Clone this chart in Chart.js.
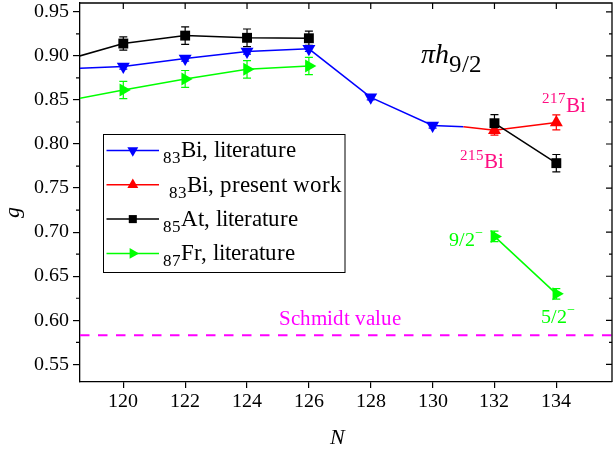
<!DOCTYPE html>
<html><head><meta charset="utf-8">
<script src="https://cdn.jsdelivr.net/npm/chart.js@4.4.0/dist/chart.umd.min.js"></script>
<style>
@font-face{font-family:'TSerif';font-style:normal;src:local('Liberation Serif'),local('LiberationSerif'),local('LiberationSerif-Regular'),local('DejaVu Serif');}
@font-face{font-family:'TSerif';font-style:italic;src:local('Liberation Serif Italic'),local('LiberationSerif-Italic'),local('DejaVu Serif Italic');}
html,body{margin:0;padding:0;background:#fff}#wrap{width:614px;height:455px}
</style>
</head><body><div id="wrap"><canvas id="c" width="614" height="455"></canvas></div>
<script>
// ---------- data ----------
const xTicks = [120,122,124,126,128,130,132,134];
const yTicks = [0.55,0.60,0.65,0.70,0.75,0.80,0.85,0.90,0.95];
const yMinorTicks = [0.575,0.625,0.675,0.725,0.775,0.825,0.875,0.925];

const biLitN   = [118,120,122,124,126,128,130,131];
const biLitG   = [0.885,0.888,0.897,0.905,0.908,0.853,0.821,0.8195];
const biLitErr = [0,0.003,0.003,0.003,0.003,0.003,0.003,0];

const biNewN   = [131,132,134];
const biNewG   = [0.8195,0.8155,0.8245];
const biNewErr = [0,0.0055,0.0085];

const atN   = [118,120,122,124,126,128,132,134];
const atG   = [0.894,0.914,0.923,0.9205,0.920,null,0.8236,0.7783];
const atErr = [0,0.0075,0.010,0.010,0.008,0,0.0098,0.0098];

const frN   = [118,120,122,124,126,128,132,134];
const frG   = [0.848,0.8613,0.8738,0.8847,0.8885,null,0.6952,0.630];
const frErr = [0,0.0098,0.0096,0.010,0.0098,0,0.006,0.006];

const schmidtN = [118.6,135.8];
const schmidtG = [0.583,0.583];

const legendSub  = ['83','83','85','87'];
const legendMain = ['Bi, literature','Bi, present work','At, literature','Fr, literature'];

// ---------- helpers ----------
const FONT = "TSerif, 'Liberation Serif', 'DejaVu Serif', serif";
const PINK = '#ff0d82';
const pts = (xs, ys) => xs.map((x,i)=>({x:x, y:ys[i]}));

function series(label, xs, ys, errs, color, style, rot, radii, order){
  return {label, data: pts(xs,ys), errs, borderColor: color, backgroundColor: color,
    pointStyle: style, rotation: rot, pointRadius: radii, pointHoverRadius: radii,
    pointBorderWidth: 0, borderWidth: 1.5, spanGaps: false, tension: 0, order, fill:false};
}

function drawRich(ctx, parts, x, y, color, align){
  ctx.save();
  ctx.fillStyle = color; ctx.textBaseline = 'alphabetic'; ctx.textAlign = 'left';
  let total = 0;
  parts.forEach(p => { ctx.font = p.font; total += ctx.measureText(p.t).width; });
  let cx = align === 'center' ? x - total/2 : x;
  parts.forEach(p => { ctx.font = p.font; ctx.fillText(p.t, cx, y + (p.dy||0)); cx += ctx.measureText(p.t).width; });
  ctx.restore();
}

const annotations = [
  {N:129.63, g:0.8916, color:'#000', parts:[{t:'\u03C0h', font:'italic 28px '+FONT},{t:'9/2', font:'25px '+FONT, dy:8.4}]},
  {N:133.54, g:0.8367, color:PINK, parts:[{t:'217', font:'15px '+FONT, dy:-8.4},{t:'Bi', font:'21px '+FONT}]},
  {N:130.90, g:0.7727, color:PINK, parts:[{t:'215', font:'15px '+FONT, dy:-8.4},{t:'Bi', font:'21px '+FONT}]},
  {N:130.54, g:0.6839, color:'#00ff00', parts:[{t:'9/2', font:'20px '+FONT},{t:'\u2212', font:'14px '+FONT, dy:-9}]},
  {N:133.50, g:0.5971, color:'#00ff00', parts:[{t:'5/2', font:'20px '+FONT},{t:'\u2212', font:'14px '+FONT, dy:-9}]},
  {N:127.00, g:0.5944, color:'#ff00ff', align:'center', parts:[{t:'Schmidt value', font:'21px '+FONT}]}
];

// ---------- plugins ----------
const errorBars = {
  id:'errorBars',
  beforeDatasetsDraw(chart){
    const {ctx, chartArea:a, scales:{x, y}} = chart;
    ctx.save();
    ctx.beginPath(); ctx.rect(a.left, a.top, a.right-a.left, a.bottom-a.top); ctx.clip();
    chart.data.datasets.forEach(ds => {
      if (!ds.errs) return;
      ctx.strokeStyle = ds.borderColor; ctx.lineWidth = 1.2;
      ds.data.forEach((p,i) => {
        const e = ds.errs[i];
        if (p.y === null || !e) return;
        const px = x.getPixelForValue(p.x);
        const y1 = y.getPixelForValue(p.y + e), y2 = y.getPixelForValue(p.y - e);
        ctx.beginPath();
        ctx.moveTo(px, y1); ctx.lineTo(px, y2);
        ctx.moveTo(px-4, y1); ctx.lineTo(px+4, y1);
        ctx.moveTo(px-4, y2); ctx.lineTo(px+4, y2);
        ctx.stroke();
      });
    });
    ctx.restore();
  }
};

const frame = {
  id:'frame',
  afterDraw(chart){
    const {ctx, chartArea:a, scales:{x, y}} = chart;
    ctx.save();
    ctx.strokeStyle = '#000'; ctx.lineWidth = 1.3;
    ctx.beginPath();
    ctx.moveTo(a.left, a.top); ctx.lineTo(a.right, a.top); ctx.lineTo(a.right, a.bottom);
    ctx.stroke();
    ctx.lineWidth = 1.2;
    ctx.beginPath();
    xTicks.forEach(v => { const px = x.getPixelForValue(v); ctx.moveTo(px, a.top); ctx.lineTo(px, a.top+6); });
    yTicks.forEach(v => { const py = y.getPixelForValue(v); ctx.moveTo(a.right, py); ctx.lineTo(a.right-6, py); });
    yMinorTicks.forEach(v => { const py = y.getPixelForValue(v);
      ctx.moveTo(a.right, py); ctx.lineTo(a.right-3, py);
      ctx.moveTo(a.left, py); ctx.lineTo(a.left-4, py); });
    ctx.stroke();
    ctx.restore();
  }
};

const texts = {
  id:'texts',
  afterDraw(chart){
    const {ctx, scales:{x, y}} = chart;
    annotations.forEach(an => drawRich(ctx, an.parts, x.getPixelForValue(an.N), y.getPixelForValue(an.g), an.color, an.align));
    ctx.save();
    ctx.fillStyle = '#000'; ctx.font = 'italic 22px '+FONT; ctx.textAlign='center'; ctx.textBaseline='middle';
    ctx.fillText('N', 337, 438);
    ctx.translate(13, 212); ctx.rotate(-Math.PI/2); ctx.fillText('g', 0, 0);
    ctx.restore();
    ctx.save();
    ctx.strokeStyle = '#000'; ctx.lineWidth = 1;
    ctx.strokeRect(103.5, 134.5, 241.5, 138);
    const dsets = chart.data.datasets;
    for (let i=0;i<4;i++){
      const d = dsets[i];
      const ly = 150.5 + i*34.3;
      ctx.strokeStyle = d.borderColor; ctx.fillStyle = d.borderColor; ctx.lineWidth = 1.5;
      ctx.beginPath(); ctx.moveTo(106.5, ly); ctx.lineTo(159, ly); ctx.stroke();
      const r = d.pointStyle === 'rect' ? 5.7 : 6.3;
      Chart.helpers.drawPoint(ctx, {pointStyle:d.pointStyle, rotation:d.rotation, radius:r, borderWidth:0}, 132.8, ly);
      const tx = i===1 ? 169 : 163;
      drawRich(ctx, [{t:legendSub[i], font:'17px '+FONT, dy:12.7},{t:legendMain[i], font:'23px '+FONT, dy:6.7}], tx, ly, '#000');
    }
    ctx.restore();
  }
};

const zeroPad = s => { s.paddingTop = 0; s.paddingBottom = 0; s.paddingLeft = 0; s.paddingRight = 0; };

function build(){
  new Chart(document.getElementById('c'), {
    type:'line',
    data:{ datasets:[
      series('83Bi, literature', biLitN, biLitG, biLitErr, '#0000ff', 'triangle', 180, [7.5,7.5,7.5,7.5,7.5,7.5,7.5,0], 4),
      series('83Bi, present work', biNewN, biNewG, biNewErr, '#ff0000', 'triangle', 0, [0,7.5,7.5], 3),
      series('85At, literature', atN, atG, atErr, '#000000', 'rect', 0, 7, 2),
      series('87Fr, literature', frN, frG, frErr, '#00ff00', 'triangle', 90, 7.5, 1),
      {label:'Schmidt', data: pts(schmidtN, schmidtG), borderColor:'#ff00ff', borderWidth:2,
       borderDash:[9.5,8.5], pointRadius:0, order:5, fill:false}
    ]},
    options:{
      responsive:false, animation:false, devicePixelRatio:1,
      layout:{autoPadding:false, padding:{left:0, right:2, top:3, bottom:0}},
      plugins:{legend:{display:false}, tooltip:{enabled:false}},
      scales:{
        x:{type:'linear', min:118.6, max:135.8,
          afterBuildTicks: s => { s.ticks = xTicks.map(v=>({value:v})); },
          afterFit: s => { s.height = 73; zeroPad(s); },
          ticks:{font:{family:FONT, size:20}, color:'#000', padding:2, maxRotation:0, autoSkip:false, callback: v => String(v)},
          grid:{drawOnChartArea:false, drawTicks:true, tickLength:6, color:'#000', lineWidth:1.2},
          border:{display:true, color:'#000', width:1.3}},
        y:{type:'linear', min:0.53, max:0.96,
          afterBuildTicks: s => { s.ticks = yTicks.map(v=>({value:v})); },
          afterFit: s => { s.width = 80; zeroPad(s); },
          ticks:{font:{family:FONT, size:20}, color:'#000', padding:4, autoSkip:false, callback: v => v.toFixed(2)},
          grid:{drawOnChartArea:false, drawTicks:true, tickLength:7, color:'#000', lineWidth:1.2},
          border:{display:true, color:'#000', width:1.3}}
      }
    },
    plugins:[errorBars, frame, texts]
  });
}
Promise.all([document.fonts.load("20px TSerif"), document.fonts.load("italic 20px TSerif")]).catch(()=>{}).then(build);
</script></body></html>
